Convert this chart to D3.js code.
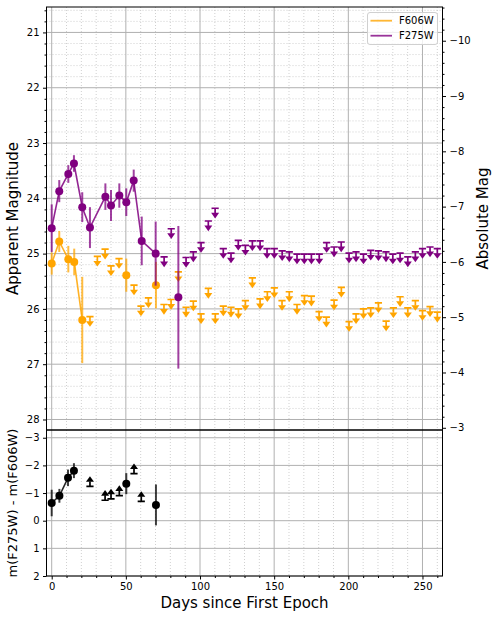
<!DOCTYPE html>
<html>
<head>
<meta charset="utf-8">
<script src="https://cdn.jsdelivr.net/npm/d3@7"></script>
<style>
  body { margin: 0; background: #fff; }
  svg { font-family: "DejaVu Sans", sans-serif; display: block; }
</style>
</head>
<body>
<svg id="chart" width="496" height="619"></svg>
<script>
'use strict';

// F275W photometry, err == null means an upper limit
var f275Days = [0, 5.1, 11.2, 15.0, 20.6, 25.8, 36.2, 40.0, 45.6, 50.3, 55.3, 60.7, 70.1,
    75.8, 80.6, 85.4, 90.6, 95.5, 100.7, 105.6, 110.2, 115.7, 120.9, 125.8, 130.6, 135.3,
    140.5, 145.2, 150.1, 155.4, 160.2, 165.4, 170.3, 175.1, 180.4, 185.4, 190.4, 195.2,
    200.5, 205.2, 210.2, 215.1, 220.3, 225.4, 230.0, 234.9, 240.1, 245.2, 250.0, 255.1, 260.0];
var f275Mag = [24.54, 23.87, 23.56, 23.37, 24.16, 24.53, 23.97, 24.13, 23.95, 24.07, 23.68, 24.77, 25.00,
    25.06, 24.55, 25.79, 25.07, 24.97, 24.80, 24.41, 24.18, 24.91, 24.99, 24.76, 24.85, 24.77,
    24.77, 24.91, 24.91, 24.95, 24.97, 25.01, 25.01, 25.01, 25.01, 24.80, 24.88, 24.79,
    24.99, 24.97, 25.01, 24.94, 24.95, 24.97, 25.01, 24.99, 25.06, 24.97, 24.91, 24.88, 24.91];
var f275Err = [0.43, 0.20, 0.16, 0.15, 0.27, 0.37, 0.24, 0.28, 0.22, 0.25, 0.20, 0.44, 0.58,
    null, null, 1.29, null, null, null, null, null, null, null, null, null, null,
    null, null, null, null, null, null, null, null, null, null, null, null,
    null, null, null, null, null, null, null, null, null, null, null, null, null];

// F606W photometry
var f606Days = [0, 5.1, 11.2, 15.2, 20.6, 25.8, 30.8, 36.0, 40.0, 45.4, 50.3, 55.5, 60.2, 65.2, 70.3,
    75.7, 80.5, 85.4, 90.6, 95.5, 100.7, 105.6, 110.3, 115.7, 120.9, 125.9, 130.6, 135.3,
    140.5, 145.4, 150.1, 155.3, 160.2, 165.4, 170.4, 175.1, 180.3, 185.2, 190.4, 195.3,
    200.5, 205.2, 210.2, 215.1, 220.3, 225.5, 230.4, 234.9, 240.1, 245.2, 250.0, 255.1, 260.0];
var f606Mag = [25.18, 24.78, 25.10, 25.15, 26.20, 26.14, 25.05, 24.92, 25.22, 25.09, 25.39, 25.57, 25.95, 25.80, 25.57,
    25.92, 25.83, 25.33, 25.97, 25.86, 26.09, 25.63, 26.09, 25.95, 25.97, 26.00, 25.85, 25.44,
    25.82, 25.69, 25.62, 25.85, 25.69, 25.92, 25.76, 25.77, 26.05, 26.15, 25.84, 25.61,
    26.23, 26.09, 26.00, 25.98, 25.89, 26.22, 25.98, 25.78, 25.98, 25.85, 26.03, 25.96, 26.06];
var f606Err = [0.20, 0.19, 0.24, 0.24, 0.78, null, null, null, null, null, 0.30, null, null, null, 0.42,
    null, null, null, null, null, null, null, null, null, null, null, null, null,
    null, null, null, null, null, null, null, null, null, null, null, null,
    null, null, null, null, null, null, null, null, null, null, null, null, null];

// colour m(F275W) - m(F606W), err == null means a limit
var colorDays = [0, 5.2, 11.0, 15.0, 25.8, 36.0, 40.0, 45.6, 50.3, 55.5, 60.4, 70.3];
var colorVal = [-0.64, -0.90, -1.55, -1.81, -1.24, -0.74, -0.79, -0.91, -1.34, -1.70, -0.70, -0.57];
var colorErr = [0.48, 0.25, 0.30, 0.27, null, null, null, null, 0.38, null, null, 0.74];

var distMod = 31.15;
var filterNames = ['F606W', 'F275W'];
var filterColors = ['#ffa500', '#800080'];

var magTicks = [21, 22, 23, 24, 25, 26, 27, 28];
var absTicks = [-10, -9, -8, -7, -6, -5, -4, -3];
var colorTicks = [-3, -2, -1, 0, 1, 2];
var dayTicks = [0, 50, 100, 150, 200, 250];

function zip(days, vals, errs) {
    return days.map(function(d, i) {
        return { day: d, val: vals[i], err: errs[i] };
    });
}

var f275 = zip(f275Days, f275Mag, f275Err);
var f606 = zip(f606Days, f606Mag, f606Err);
var colr = zip(colorDays, colorVal, colorErr);

var svg = d3.select('#chart');
var L = 46.5, R = 442.5, T1 = 7, B1 = 430, T2 = 430, B2 = 576;

var x = d3.scaleLinear().domain([-3.5, 263.5]).range([L, R]);
var yTop = d3.scaleLinear().domain([20.54, 28.19]).range([T1, B1]);
var yAbs = d3.scaleLinear().domain([20.54 - distMod, 28.19 - distMod]).range([T1, B1]);
var yBot = d3.scaleLinear().domain([-3.28, 2]).range([T2, B2]);

var dayMinor = d3.range(0, 261, 10).filter(function(d) { return d % 50 !== 0; });
var magMinor = d3.range(20.6, 28.2, 0.2).filter(function(d) { return Math.abs(d - Math.round(d)) > 0.01; });
var absMinor = d3.range(-10.6, -2.9, 0.2).filter(function(d) { return Math.abs(d - Math.round(d)) > 0.01; });
var minus = function(d) { return String(d).replace('-', '\u2212'); };

function drawGrid(g, ys, yMajor, yMinor, t, b) {
    g.selectAll('.vmin').data(dayMinor).enter().append('line')
        .attr('x1', x).attr('x2', x).attr('y1', t).attr('y2', b)
        .attr('stroke', '#c4c4c4').attr('stroke-width', 0.8).attr('stroke-dasharray', '1,2');
    g.selectAll('.hmin').data(yMinor).enter().append('line')
        .attr('x1', L).attr('x2', R).attr('y1', ys).attr('y2', ys)
        .attr('stroke', '#c4c4c4').attr('stroke-width', 0.8).attr('stroke-dasharray', '1,2');
    g.selectAll('.vmaj').data(dayTicks).enter().append('line')
        .attr('x1', x).attr('x2', x).attr('y1', t).attr('y2', b)
        .attr('stroke', '#b0b0b0').attr('stroke-width', 1);
    g.selectAll('.hmaj').data(yMajor).enter().append('line')
        .attr('x1', L).attr('x2', R).attr('y1', ys).attr('y2', ys)
        .attr('stroke', '#b0b0b0').attr('stroke-width', 1);
}

drawGrid(svg.append('g'), yTop, magTicks, magMinor, T1, B1);
drawGrid(svg.append('g'), yBot, colorTicks, [], T2, B2);

// limit arrow: cap at the value, arrowhead dir px away (dir>0 = down)
function limitArrows(g, data, ys, color, dir) {
    var lim = g.selectAll(null).data(data.filter(function(d) { return d.err === null; }))
        .enter().append('g')
        .attr('transform', function(d) { return 'translate(' + x(d.day) + ',' + ys(d.val) + ')'; });
    lim.append('path')
        .attr('d', 'M-3.6,0H3.6M0,0V' + (dir * 5))
        .attr('stroke', color).attr('stroke-width', 1.7).attr('fill', 'none');
    lim.append('path')
        .attr('d', 'M-4,' + (dir * 4.6) + 'L4,' + (dir * 4.6) + 'L0,' + (dir * 10.2) + 'Z')
        .attr('fill', color);
}

function detections(g, data, ys, color) {
    var det = data.filter(function(d) { return d.err !== null; });
    var line = d3.line()
        .defined(function(d) { return d.err !== null; })
        .x(function(d) { return x(d.day); })
        .y(function(d) { return ys(d.val); });
    g.append('path').datum(data)
        .attr('d', line).attr('fill', 'none')
        .attr('stroke', color).attr('stroke-width', 1.6).attr('stroke-opacity', 0.85);
    g.selectAll(null).data(det).enter().append('line')
        .attr('x1', function(d) { return x(d.day); })
        .attr('x2', function(d) { return x(d.day); })
        .attr('y1', function(d) { return ys(d.val - d.err); })
        .attr('y2', function(d) { return ys(d.val + d.err); })
        .attr('stroke', color).attr('stroke-width', 2).attr('stroke-opacity', 0.75);
    g.selectAll(null).data(det).enter().append('circle')
        .attr('cx', function(d) { return x(d.day); })
        .attr('cy', function(d) { return ys(d.val); })
        .attr('r', 4).attr('fill', color);
}

var topG = svg.append('g');
detections(topG, f606, yTop, filterColors[0]);
limitArrows(topG, f606, yTop, filterColors[0], 1);
detections(topG, f275, yTop, filterColors[1]);
limitArrows(topG, f275, yTop, filterColors[1], 1);

var botG = svg.append('g');
detections(botG, colr, yBot, '#000');
limitArrows(botG, colr, yBot, '#000', -1);

// spines
svg.append('rect').attr('x', L).attr('y', T1).attr('width', R - L).attr('height', B1 - T1)
    .attr('fill', 'none').attr('stroke', '#000').attr('stroke-width', 1);
svg.append('rect').attr('x', L).attr('y', T2).attr('width', R - L).attr('height', B2 - T2)
    .attr('fill', 'none').attr('stroke', '#000').attr('stroke-width', 1);

// axes
function styleAxis(g) {
    g.select('.domain').remove();
    g.selectAll('text').attr('font-size', 10).attr('font-family', 'DejaVu Sans').attr('fill', '#000');
    g.selectAll('line').attr('stroke', '#000');
}

svg.append('g').attr('transform', 'translate(' + L + ',0)')
    .call(d3.axisLeft(yTop).tickValues(magTicks).tickSize(3.5).tickPadding(3.5).tickFormat(d3.format('d')))
    .call(styleAxis);
svg.append('g').attr('transform', 'translate(' + L + ',0)')
    .call(d3.axisLeft(yTop).tickValues(magMinor).tickSize(2).tickFormat(''))
    .call(styleAxis);
svg.append('g').attr('transform', 'translate(' + R + ',0)')
    .call(d3.axisRight(yAbs).tickValues(absTicks).tickSize(3.5).tickPadding(3.5).tickFormat(minus))
    .call(styleAxis);
svg.append('g').attr('transform', 'translate(' + R + ',0)')
    .call(d3.axisRight(yAbs).tickValues(absMinor).tickSize(2).tickFormat(''))
    .call(styleAxis);
svg.append('g').attr('transform', 'translate(' + L + ',0)')
    .call(d3.axisLeft(yBot).tickValues(colorTicks).tickSize(3.5).tickPadding(3.5).tickFormat(minus))
    .call(styleAxis);
svg.append('g').attr('transform', 'translate(0,' + B2 + ')')
    .call(d3.axisBottom(x).tickValues(dayTicks).tickSize(3.5).tickPadding(3.5).tickFormat(d3.format('d')))
    .call(styleAxis);
svg.append('g').attr('transform', 'translate(0,' + B2 + ')')
    .call(d3.axisBottom(x).tickValues(dayMinor).tickSize(2).tickFormat(''))
    .call(styleAxis);

// labels
svg.append('text').attr('transform', 'translate(18,' + ((T1 + B1) / 2) + ') rotate(-90)')
    .attr('text-anchor', 'middle').attr('font-size', 15).text('Apparent Magnitude');
svg.append('text').attr('transform', 'translate(488,' + ((T1 + B1) / 2) + ') rotate(-90)')
    .attr('text-anchor', 'middle').attr('font-size', 15).text('Absolute Mag');
svg.append('text').attr('transform', 'translate(17,' + ((T2 + B2) / 2) + ') rotate(-90)')
    .attr('text-anchor', 'middle').attr('font-size', 13).text('m(F275W) - m(F606W)');
svg.append('text').attr('x', (L + R) / 2).attr('y', 608)
    .attr('text-anchor', 'middle').attr('font-size', 15).text('Days since First Epoch');

// legend
var leg = svg.append('g').attr('transform', 'translate(367.5,12.5)');
leg.append('rect').attr('width', 70).attr('height', 32).attr('rx', 2.5)
    .attr('fill', '#fff').attr('fill-opacity', 0.8).attr('stroke', '#d0d0d0');
filterNames.forEach(function(name, i) {
    leg.append('line').attr('x1', 3).attr('x2', 24.5).attr('y1', 8.2 + i * 15).attr('y2', 8.2 + i * 15)
        .attr('stroke', filterColors[i]).attr('stroke-width', 1.8).attr('stroke-opacity', 0.8);
    leg.append('text').attr('x', 31.5).attr('y', 11.8 + i * 15).attr('font-size', 10).text(name);
});
</script>
</body>
</html>
